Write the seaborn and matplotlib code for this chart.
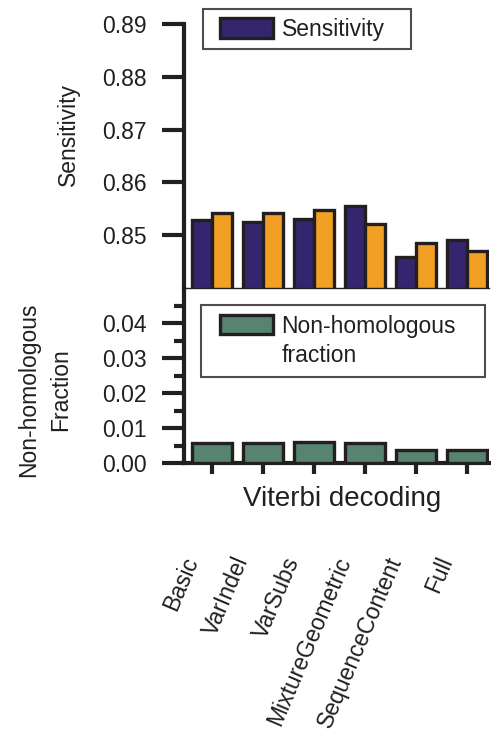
import matplotlib
matplotlib.use("Agg")
import matplotlib.pyplot as plt
from matplotlib.transforms import ScaledTranslation
from matplotlib.patches import Patch, Rectangle
from matplotlib.legend_handler import HandlerPatch
import seaborn as sns
import pandas as pd

models = ["Basic", "VarIndel", "VarSubs", "MixtureGeometric", "SequenceContent", "Full"]
sens_a = [0.8529, 0.8525, 0.8530, 0.8555, 0.8458, 0.8490]
sens_b = [0.8542, 0.8542, 0.8548, 0.8521, 0.8485, 0.8470]
nonhom = [0.0057, 0.0057, 0.0060, 0.0057, 0.0037, 0.0037]
yticks_top = [0.85, 0.86, 0.87, 0.88, 0.89]
yticks_bot = [0.00, 0.01, 0.02, 0.03, 0.04]
yminor_bot = [0.005, 0.015, 0.025, 0.035, 0.045]

BLUE = "#33266f"
ORANGE = "#f2a024"
GREEN = "#578470"
INK = "#231f20"

sns.set_style("white")
plt.rcParams["font.family"] = ["Liberation Sans", "DejaVu Sans"]
plt.rcParams["text.color"] = INK
plt.rcParams["axes.labelcolor"] = INK
plt.rcParams["xtick.color"] = INK
plt.rcParams["ytick.color"] = INK

FS = 16.5

df_top = pd.DataFrame({
    "model": models * 2,
    "series": ["Sensitivity"] * len(models) + ["Sensitivity B"] * len(models),
    "value": sens_a + sens_b,
})
df_bot = pd.DataFrame({
    "model": models,
    "series": ["Non-homologous fraction"] * len(models),
    "value": nonhom,
})

fig = plt.figure(figsize=(4.91, 7.43), dpi=100)
W, H = 491, 743
ax1 = fig.add_axes([184 / W, 1 - 288 / H, 305 / W, 264 / H])
ax2 = fig.add_axes([184 / W, 1 - 463 / H, 305 / W, 175 / H])

sns.barplot(data=df_top, x="model", y="value", hue="series", order=models,
            hue_order=["Sensitivity", "Sensitivity B"],
            palette=[BLUE, ORANGE], saturation=1, edgecolor=INK, linewidth=2.4,
            width=0.8, legend=False, ax=ax1, zorder=3)
sns.barplot(data=df_bot, x="model", y="value", hue="series", order=models,
            hue_order=["Non-homologous fraction", "_empty"],
            palette=[GREEN, GREEN], saturation=1, edgecolor=INK, linewidth=2.4,
            width=0.8, legend=False, ax=ax2, zorder=3)

xlim = (-0.55, 5.43)
for ax in (ax1, ax2):
    ax.set_xlim(*xlim)
    ax.set_facecolor("none")
    for s in ax.spines.values():
        s.set_color(INK)

# top axes
ax1.set_ylim(0.84, 0.89)
ax1.set_yticks(yticks_top)
ax1.set_yticklabels([f"{v:.2f}" for v in yticks_top])
for s in ["top", "right", "bottom"]:
    ax1.spines[s].set_visible(False)
ax1.spines["left"].set_linewidth(3)
ax1.tick_params(axis="y", which="major", length=16, width=3, pad=11, labelsize=FS, left=True)
ax1.tick_params(axis="x", bottom=False, labelbottom=False)
ax1.set_xlabel("")
ax1.set_ylabel("Sensitivity", fontsize=FS)
ax1.yaxis.set_label_coords(-0.341, 0.58)

# bottom axes
ax2.set_ylim(0, 0.05)
ax2.set_yticks(yticks_bot)
ax2.set_yticklabels([f"{v:.2f}" for v in yticks_bot])
ax2.set_yticks(yminor_bot, minor=True)
ax2.spines["right"].set_visible(False)
ax2.spines["top"].set_linewidth(1.0)
ax2.spines["left"].set_linewidth(3)
ax2.spines["bottom"].set_linewidth(3)
ax2.tick_params(axis="y", which="major", length=16, width=3, pad=11, labelsize=FS, left=True)
ax2.tick_params(axis="y", which="minor", length=7, width=3, left=True)
ax2.tick_params(axis="x", which="major", length=8, width=3, pad=57, labelsize=FS, bottom=True)
ax2.set_ylabel("Non-homologous\nFraction", fontsize=FS, linespacing=1.5)
ax2.yaxis.set_label_coords(-0.367, 0.417)
ax2.set_xlabel("Viterbi decoding", fontsize=20)
ax2.xaxis.set_label_coords(0.52, -0.131)
ax2.set_xticks(range(len(models)))
ax2.set_xticklabels(models, rotation=67, ha="right", va="top",
                    rotation_mode="anchor")
off = ScaledTranslation(-31 / 100, 0, fig.dpi_scale_trans)
for lbl in ax2.get_xticklabels():
    lbl.set_transform(lbl.get_transform() + off)


# legends
def inset_patch(legend=None, orig_handle=None, xdescent=0, ydescent=0,
                width=1, height=1, fontsize=None):
    inset = 6
    return Rectangle((-xdescent + inset, -ydescent), width - inset, height)


hmap = {Patch: HandlerPatch(patch_func=inset_patch)}

h1 = [Patch(facecolor=BLUE, edgecolor=INK, linewidth=2.4)]
leg1 = ax1.legend(h1, ["Sensitivity"], loc="upper left",
                  bbox_to_anchor=(0.062, 1.057 - 0.2, 0.682, 0.2), mode="expand",
                  borderaxespad=0, fontsize=FS, frameon=True, fancybox=False,
                  handlelength=2.7, handleheight=0.95, handletextpad=0.35,
                  borderpad=0.38, handler_map=hmap)
leg1.get_frame().set_edgecolor(INK)
leg1.get_frame().set_linewidth(1.5)

h2 = [Patch(facecolor=GREEN, edgecolor=INK, linewidth=2.4)]
leg2 = ax2.legend(h2, ["Non-homologous\nfraction"], loc="upper left",
                  bbox_to_anchor=(0.056, 0.903 - 0.5, 0.931, 0.5), mode="expand",
                  borderaxespad=0, fontsize=FS, frameon=True, fancybox=False,
                  handlelength=2.7, handleheight=0.85, handletextpad=0.35,
                  borderpad=0.45, handler_map=hmap)
leg2.get_frame().set_edgecolor(INK)
leg2.get_frame().set_linewidth(1.5)
for t in leg2.get_texts():
    t.set_linespacing(1.3)
try:
    for col in leg2._legend_handle_box.get_children():
        for item in col.get_children():
            item.align = "top"
except Exception:
    pass

fig.savefig("out.png", dpi=100)
